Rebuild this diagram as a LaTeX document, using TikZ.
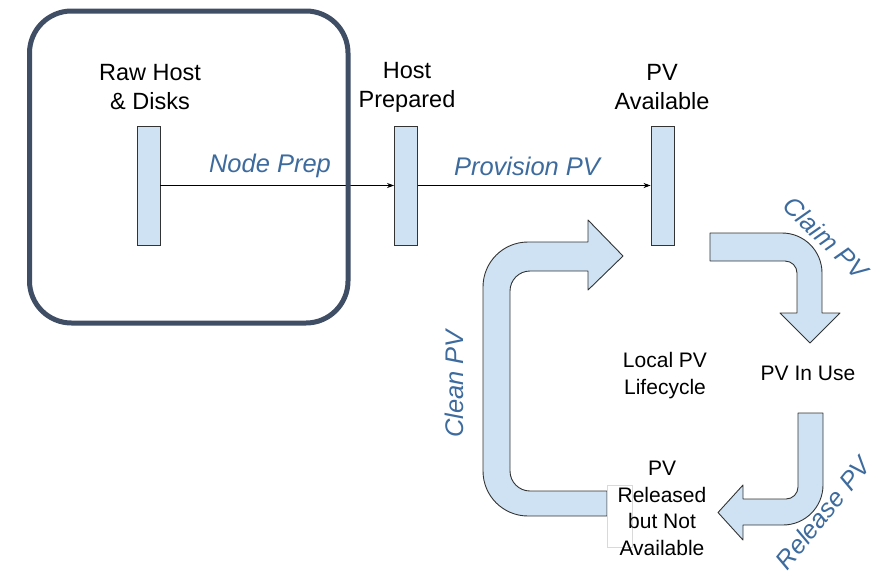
\documentclass[tikz,border=0pt]{standalone}
\usepackage{fontspec}
\setmainfont{Liberation Sans}
\usetikzlibrary{arrows.meta}
\definecolor{barfill}{HTML}{CFE2F3}
\definecolor{framecol}{HTML}{3F4D65}
\definecolor{lblblue}{HTML}{3D6B9E}
\definecolor{edgegray}{HTML}{333333}
\tikzset{
  bar/.style={draw=edgegray, line width=0.9pt, fill=barfill, minimum width=23pt, minimum height=119pt, inner sep=0pt},
  toplbl/.style={align=center, font=\fontsize{23.5pt}{29pt}\selectfont, text=black, inner sep=0pt},
  midlbl/.style={align=center, font=\fontsize{21pt}{26.5pt}\selectfont, text=black, inner sep=0pt},
  actlbl/.style={font=\fontsize{25.5pt}{30pt}\selectfont\itshape, text=lblblue, inner sep=0pt},
  flow/.style={draw=black, line width=0.8pt, -{Stealth[length=7pt,width=5pt]}},
  bigarrow/.style={draw=edgegray, line width=0.9pt, fill=barfill, line join=round}
}
\begin{document}
\begin{tikzpicture}[x=1pt,y=-1pt]
\useasboundingbox (0,0) rectangle (877,573);
% bars
\node[bar] (b1) at (148.5,185.5) {};
\node[bar] (b2) at (406,185.5) {};
\node[bar] (b3) at (662.5,185.5) {};
% connectors
\draw[flow] (b1.east) -- (b2.west);
\draw[flow] (b2.east) -- (b3.west);
% frame
\draw[framecol, line width=5pt, rounded corners=42pt] (29.5,11) rectangle (348,323);
% top labels
\node[toplbl] (l1) at (150,87) {Raw Host\\\& Disks};
\node[toplbl] (l2) at (407,87) {Host\\Prepared};
\node[toplbl] (l3) at (662,87) {PV\\Available};
% action labels
\node[actlbl] (np) at (270,166) {Node Prep};
\node[actlbl] (pp) at (527,166) {Provision PV};
\node[actlbl, rotate=-44] (cp) at (826,238) {Claim PV};
\node[actlbl, rotate=51] (rp) at (823,513) {Release PV};
\node[actlbl, rotate=90] (clp) at (454,384) {Clean PV};
% claim arrow
\draw[bigarrow] (710,233) -- (782,233) .. controls (804.1,233) and (822,250.9) .. (822,273)
  -- (822,313) -- (840,313) -- (810,343) -- (780,313) -- (797,313) -- (797,273)
  .. controls (797,266.4) and (791.6,261) .. (785,261) -- (710,261) -- cycle;
% release arrow
\draw[bigarrow] (798,413) -- (823,413) -- (823,485) .. controls (823,507.1) and (805.1,525) .. (783,525)
  -- (743,525) -- (743,540) -- (718,512.5) -- (743,485) -- (743,499) -- (786,499)
  .. controls (792.6,499) and (798,493.6) .. (798,487) -- cycle;
% clean arrow
\draw[bigarrow] (607,491) -- (530,491) .. controls (519,491) and (510,482) .. (510,471)
  -- (510,291) .. controls (510,280) and (519,271) .. (530,271) -- (588,271) -- (588,290)
  -- (623,256) -- (588,220) -- (588,242) -- (528,242) .. controls (503.1,242) and (483,262.1) .. (483,287)
  -- (483,471) .. controls (483,495.9) and (503.1,516) .. (528,516) -- (607,516) -- cycle;
% box behind released label
\draw[draw=black!15, fill=white, line width=0.6pt] (607,485) rectangle (632,547);
% state labels
\node[midlbl] (lc) at (665,375.5) {Local PV\\Lifecycle};
\node[midlbl] (use) at (808,373) {PV In Use};
\node[midlbl] (rel) at (662,508.5) {PV\\Released\\but Not\\Available};
\end{tikzpicture}
\end{document}
